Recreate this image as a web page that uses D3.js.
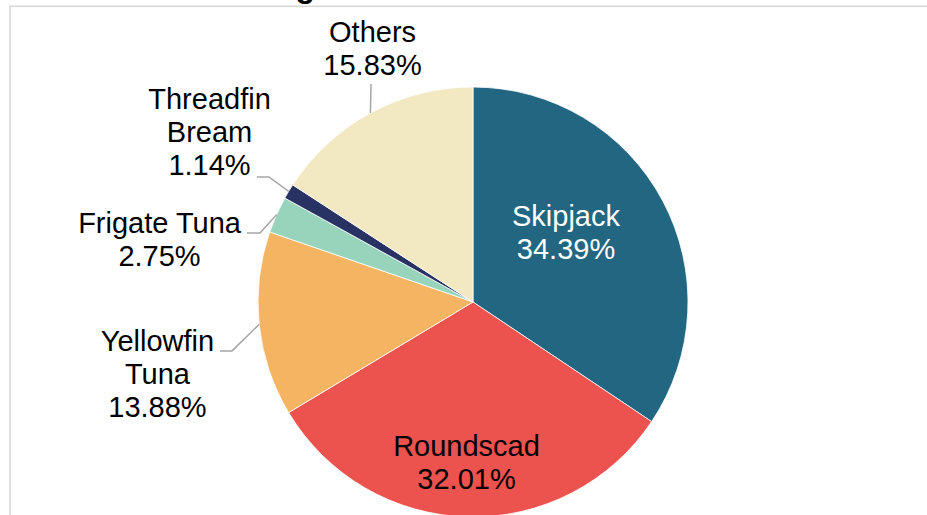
<!DOCTYPE html>
<html>
<head>
<meta charset="utf-8">
<script src="https://cdn.jsdelivr.net/npm/d3@7"></script>
<style>
  html, body { margin: 0; padding: 0; background: #fff; }
  svg { display: block; }
  text { font-family: "Liberation Sans", Arial, sans-serif; }
</style>
</head>
<body>
<svg id="chart" width="927" height="515"></svg>
<script>
// ---- data ----
const categories = ["Skipjack", "Roundscad", "Yellowfin Tuna", "Frigate Tuna", "Threadfin Bream", "Others"];
const shares = [34.39, 32.01, 13.88, 2.75, 1.14, 15.83];
const labelLines = [["Skipjack"], ["Roundscad"], ["Yellowfin", "Tuna"], ["Frigate Tuna"], ["Threadfin", "Bream"], ["Others"]];
const titleText = "Tuna Landing";

// ---- styles / layout ----
const colors = ["#236682", "#EC524E", "#F4B462", "#98D4BB", "#283364", "#F2E8C1"];
const W = 927, H = 515;
const cx = 473, cy = 302, R = 215;
const fontSize = 29, lineH = 33;
// label layout: inside labels relative to pie centre; outside labels relative to slice edge point
// [type, textDx, firstBaselineDy, leader polyline points relative to edge point]
const labelLayout = [
  {inside: true,  dx: 93,    dy: -76},
  {inside: true,  dx: -6.5,  dy: 154},
  {inside: false, dx: -101.7, dy: 26.5,  leader: [[-39.2, 26.5], [-27.2, 26.5]], color: "#000"},
  {inside: false, dx: -117,  dy: 18.3,  leader: [[-29.5, 18.3], [-16.5, 18.3]], color: "#000"},
  {inside: false, dx: -79.1, dy: -82.4, leader: [[-31.6, -14.4], [-19.6, -14.4]], color: "#000"},
  {inside: false, dx: 2.1,   dy: -71,   leader: [[0.6, -29]], color: "#000"}
];
const insideColors = ["#ffffff", "#000000"];

const svg = d3.select("#chart");

// frame
svg.append("rect")
  .attr("x", 10).attr("y", 6.3)
  .attr("width", 1000).attr("height", 1000)
  .attr("fill", "none").attr("stroke", "#D9D9D9").attr("stroke-width", 1.6);

// title (mostly clipped above the viewport)
svg.append("text")
  .attr("x", 315).attr("y", -3.4)
  .attr("text-anchor", "end")
  .attr("font-size", 32).attr("font-weight", "bold")
  .attr("fill", "#000")
  .text(titleText);

const data = categories.map((c, i) => ({name: c, value: shares[i], i}));
const pie = d3.pie().sort(null).value(d => d.value);
const arcs = pie(data);
const arc = d3.arc().innerRadius(0).outerRadius(R);

const g = svg.append("g").attr("transform", `translate(${cx},${cy})`);

g.selectAll("path.slice")
  .data(arcs)
  .join("path")
  .attr("class", "slice")
  .attr("d", arc)
  .attr("fill", d => colors[d.data.i])
  .attr("stroke", "#ffffff")
  .attr("stroke-width", 0.8);

// labels
arcs.forEach(a => {
  const i = a.data.i;
  const L = labelLayout[i];
  const lines = labelLines[i].concat([shares[i].toFixed(2) + "%"]);
  const mid = (a.startAngle + a.endAngle) / 2;
  const px = R * Math.sin(mid), py = -R * Math.cos(mid);
  let tx, ty, fill;
  if (L.inside) {
    tx = L.dx; ty = L.dy; fill = insideColors[i];
  } else {
    tx = px + L.dx; ty = py + L.dy; fill = L.color;
    const pts = L.leader.map(p => [px + p[0], py + p[1]]).concat([[px, py]]);
    g.append("path")
      .attr("d", d3.line()(pts))
      .attr("fill", "none")
      .attr("stroke", "#A6A6A6")
      .attr("stroke-width", 1.5);
  }
  const t = g.append("text")
    .attr("text-anchor", "middle")
    .attr("font-size", fontSize)
    .attr("fill", fill);
  lines.forEach((ln, k) => {
    t.append("tspan").attr("x", tx).attr("y", ty + k * lineH).text(ln);
  });
});
</script>
</body>
</html>
